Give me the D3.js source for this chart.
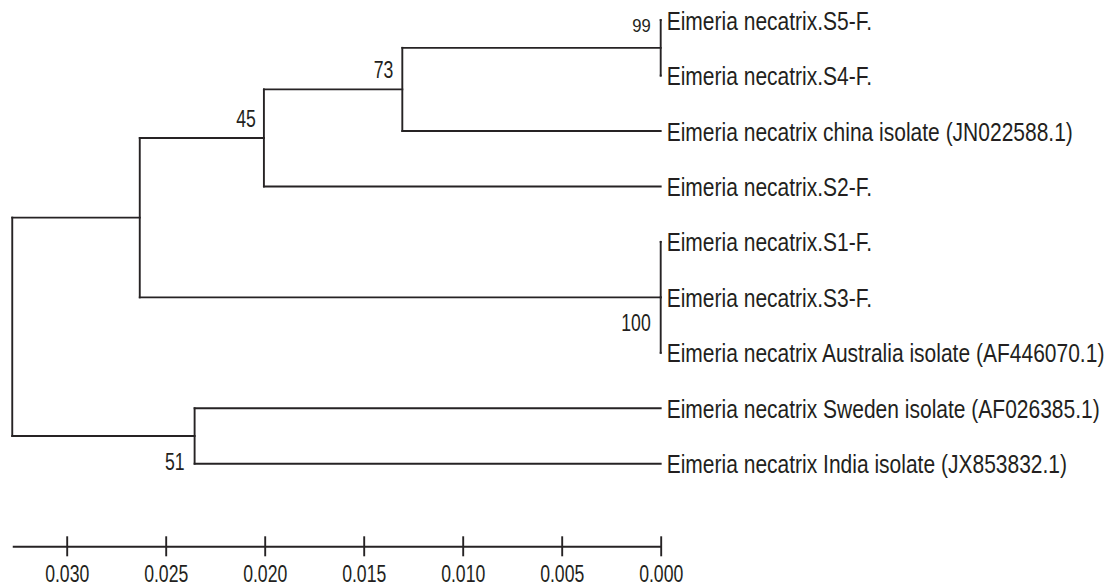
<!DOCTYPE html>
<html>
<head>
<meta charset="utf-8">
<script src="https://cdn.jsdelivr.net/npm/d3@7"></script>
<style>
  html, body { margin: 0; padding: 0; background: #fff; }
  svg { display: block; }
  text { font-family: "Liberation Sans", Arial, sans-serif; fill: #231f20; }
</style>
</head>
<body>
<svg id="chart" width="1113" height="586"></svg>
<script>
// ---- Data ----
const nodeIds   = ["root", "n1", "n45", "n73", "n99",
                   "Eimeria necatrix.S5-F.", "Eimeria necatrix.S4-F.",
                   "Eimeria necatrix china isolate (JN022588.1)",
                   "Eimeria necatrix.S2-F.",
                   "n100",
                   "Eimeria necatrix.S1-F.", "Eimeria necatrix.S3-F.",
                   "Eimeria necatrix Australia isolate (AF446070.1)",
                   "n51",
                   "Eimeria necatrix Sweden isolate (AF026385.1)",
                   "Eimeria necatrix India isolate (JX853832.1)"];
const parentIds = [null, "root", "n1", "n45", "n73",
                   "n99", "n99",
                   "n73",
                   "n45",
                   "n1",
                   "n100", "n100",
                   "n100",
                   "root",
                   "n51",
                   "n51"];
// node height = distance from the tips (UPGMA-like ultrametric tree)
const nodeHeights = [0.03275, 0.02631, 0.02004, 0.01305, 0.0,
                     0, 0,
                     0,
                     0,
                     0.0,
                     0, 0,
                     0,
                     0.02354,
                     0,
                     0];
const supportValues = [null, null, 45, 73, 99,
                       null, null, null, null,
                       100,
                       null, null, null,
                       51,
                       null, null];
const axisTicks = [0.030, 0.025, 0.020, 0.015, 0.010, 0.005, 0.000];

// ---- Build tree ----
const rows = nodeIds.map((id, i) => ({
  id, parent: parentIds[i], h: nodeHeights[i], support: supportValues[i]
}));
const root = d3.stratify().id(d => d.id).parentId(d => d.parent)(rows);

const svg = d3.select("#chart");

const x = d3.scaleLinear().domain([0, 0.005]).range([660.7, 561.7]);
const leaves = root.leaves();
const y = d3.scaleLinear().domain([0, leaves.length - 1]).range([20.1, 463.7]);

leaves.forEach((l, i) => { l.y = y(i); });
root.eachAfter(n => {
  n.px = x(n.data.h);
  if (n.children) {
    n.y = (n.children[0].y + n.children[n.children.length - 1].y) / 2;
  }
});

const lineColor = "#262324";
const lineW = 1.9;
const g = svg.append("g");

// horizontal branches
g.selectAll("path.h")
  .data(root.descendants().filter(n => n.parent))
  .join("path")
  .attr("class", "h")
  .attr("d", n => `M${n.parent.px},${n.y}H${n.px}`)
  .attr("fill", "none")
  .attr("stroke", lineColor)
  .attr("stroke-width", lineW)
  .attr("stroke-linecap", "square");

// vertical connectors
g.selectAll("path.v")
  .data(root.descendants().filter(n => n.children))
  .join("path")
  .attr("class", "v")
  .attr("d", n => `M${n.px},${n.children[0].y}V${n.children[n.children.length - 1].y}`)
  .attr("fill", "none")
  .attr("stroke", lineColor)
  .attr("stroke-width", lineW)
  .attr("stroke-linecap", "square");

// tip labels
g.selectAll("text.tip")
  .data(leaves)
  .join("text")
  .attr("class", "tip")
  .attr("transform", n => `translate(${n.px + 6},${n.y + 9.5}) scale(0.808,1)`)
  .attr("font-size", 26)
  .text(n => n.data.id);

// support labels
const labelOffset = {
  n45: [-8, -11], n73: [-9, -11], n99: [-10, -16], n100: [-10, 34], n51: [-10, 34]
};
g.selectAll("text.sup")
  .data(root.descendants().filter(n => n.data.support != null))
  .join("text")
  .attr("class", "sup")
  .attr("text-anchor", "end")
  .attr("font-size", n => n.data.id === "n99" ? 17.5 : 24.5)
  .attr("transform", n => {
    const o = labelOffset[n.data.id];
    const sx = n.data.id === "n99" ? 0.95 : 0.72;
    return `translate(${n.px + o[0]},${n.y + o[1]}) scale(${sx},1)`;
  })
  .text(n => n.data.support);

// ---- Scale axis ----
const axisScale = x.copy().domain([0, root.data.h]).range([x(0), x(root.data.h)]);
const axis = d3.axisBottom(axisScale)
  .tickValues(axisTicks)
  .tickFormat(d3.format(".3f"))
  .tickSizeOuter(0)
  .tickSizeInner(10);

const ax = svg.append("g")
  .attr("transform", "translate(0,546.3)")
  .call(axis);
ax.select(".domain").attr("stroke", lineColor).attr("stroke-width", lineW);
ax.selectAll(".tick line")
  .attr("y1", -10).attr("y2", 10)
  .attr("stroke", lineColor).attr("stroke-width", lineW);
ax.selectAll(".tick text")
  .attr("y", 35.4).attr("dy", null)
  .attr("font-size", 24.5)
  .attr("font-family", "Liberation Sans, Arial, sans-serif")
  .attr("fill", "#231f20")
  .attr("transform", "scale(0.72,1)");
</script>
</body>
</html>
